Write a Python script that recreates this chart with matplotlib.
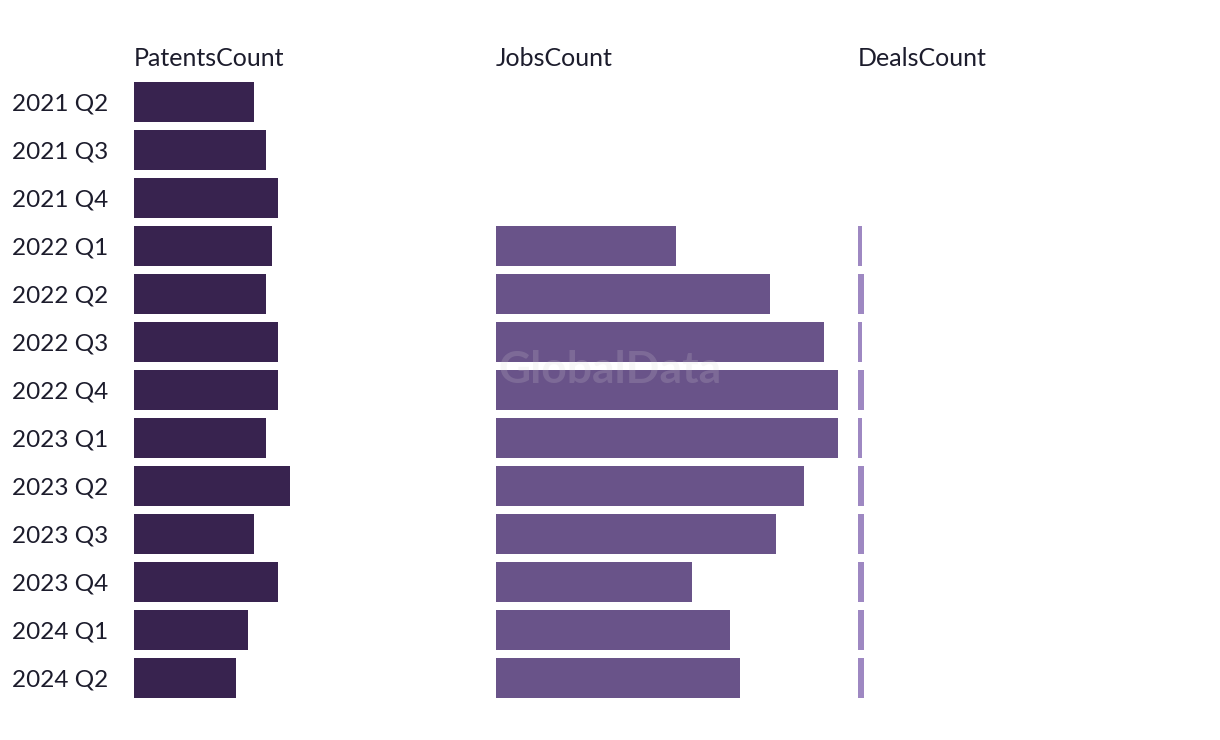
import matplotlib.pyplot as plt

quarters = [
    "2021 Q2", "2021 Q3", "2021 Q4", "2022 Q1", "2022 Q2", "2022 Q3", "2022 Q4",
    "2023 Q1", "2023 Q2", "2023 Q3", "2023 Q4", "2024 Q1", "2024 Q2",
]
patents = [20, 22, 24, 23, 22, 24, 24, 22, 26, 20, 24, 19, 17]
jobs = [None, None, None, 90, 137, 164, 171, 171, 154, 140, 98, 117, 122]
deals = [None, None, None, 2, 3, 2, 3, 2, 3, 3, 3, 3, 3]

panels = [
    ("PatentsCount", patents, "#38234f", 355 / 6),
    ("JobsCount", jobs, "#695389", 355 / 2),
    ("DealsCount", deals, "#9e88c2", 355 / 2),
]

W, H = 1220, 740
fig = plt.figure(figsize=(W / 100, H / 100), dpi=100)
plt.rcParams["font.family"] = ["Lato", "DejaVu Sans"]
text_color = "#1c1c2c"

lefts = [134, 496, 858]
top, bottom = 78, 702
for i, (title, values, color, xmax) in enumerate(panels):
    ax = fig.add_axes([lefts[i] / W, (H - bottom) / H, 355 / W, (bottom - top) / H])
    ys = [j for j, v in enumerate(values) if v is not None]
    vs = [v for v in values if v is not None]
    ax.barh(ys, vs, height=40 / 48, color=color)
    ax.set_xlim(0, xmax)
    ax.set_ylim(len(quarters) - 0.5, -0.5)
    for s in ax.spines.values():
        s.set_visible(False)
    ax.set_xticks([])
    if i == 0:
        ax.set_yticks(range(len(quarters)))
        ax.set_yticklabels(quarters, fontsize=17.5, color=text_color, ha="left")
        ax.tick_params(axis="y", length=0, pad=(134 - 12) * 0.72)
    else:
        ax.set_yticks([])
    ax.text(0, 1.0 + 20 / (bottom - top), title, transform=ax.transAxes,
            fontsize=18, color=text_color, ha="left", va="center")

fig.text(610 / W, 1 - 370 / H, "GlobalData", fontsize=32, fontweight="bold",
         color="#d8d8d8", alpha=0.18, ha="center", va="center")

fig.savefig("out.png", dpi=100)
